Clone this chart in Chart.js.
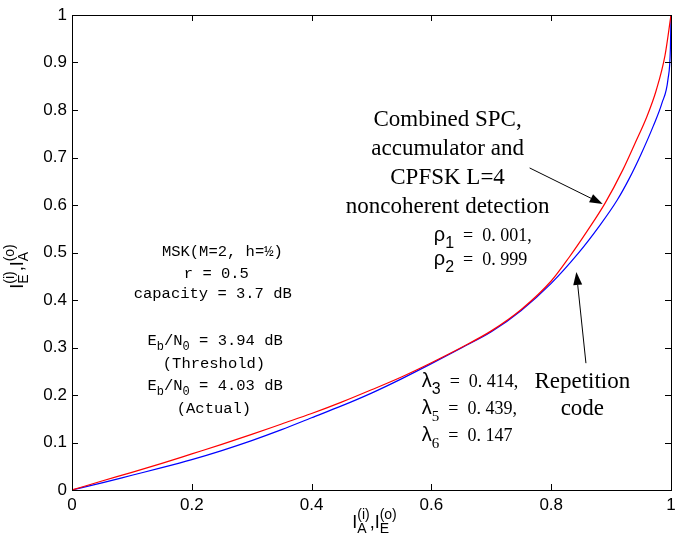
<!DOCTYPE html>
<html>
<head>
<meta charset="utf-8">
<script src="https://cdn.jsdelivr.net/npm/chart.js@4.4.0/dist/chart.umd.min.js"></script>
<style>
  html, body { margin: 0; padding: 0; background: #fff; }
  #wrap { width: 675px; height: 543px; }
</style>
</head>
<body>
<div id="wrap"><canvas id="exitChart"></canvas></div>
<script>
// EXIT chart curves
const combinedX = [0, 0.05, 0.1, 0.15, 0.2, 0.25, 0.3, 0.35, 0.4, 0.45, 0.5, 0.55, 0.6, 0.65, 0.7, 0.75, 0.8, 0.83, 0.86, 0.89, 0.92, 0.94, 0.96, 0.975, 0.99, 1];
const combinedY = [0, 0.019, 0.037, 0.056, 0.076, 0.096, 0.117, 0.139, 0.161, 0.185, 0.211, 0.238, 0.268, 0.3, 0.335, 0.38, 0.44, 0.49, 0.545, 0.604, 0.675, 0.73, 0.787, 0.84, 0.915, 1];
const repetitionX = [0, 0.05, 0.1, 0.15, 0.2, 0.25, 0.3, 0.35, 0.4, 0.45, 0.5, 0.55, 0.6, 0.65, 0.7, 0.75, 0.8, 0.845, 0.88, 0.91, 0.93, 0.95, 0.97, 0.985, 0.995, 0.999, 1];
const repetitionY = [0, 0.015, 0.031, 0.047, 0.064, 0.083, 0.104, 0.127, 0.152, 0.177, 0.204, 0.234, 0.266, 0.299, 0.333, 0.378, 0.435, 0.498, 0.555, 0.61, 0.655, 0.707, 0.765, 0.815, 0.865, 0.93, 1];
const xTicks = [0, 0.2, 0.4, 0.6, 0.8, 1];
const yTicks = [0, 0.1, 0.2, 0.3, 0.4, 0.5, 0.6, 0.7, 0.8, 0.9, 1];

const toPoints = (xs, ys) => xs.map((x, i) => ({ x: x, y: ys[i] }));

const SANS = '"Liberation Sans", Arial, sans-serif';
const SERIF = '"Liberation Serif", "Times New Roman", serif';
const MONO = '"Liberation Mono", "Courier New", monospace';

// draw a run of text pieces; piece = {t, font, dy} or {sup, sub, font, supDy, subDy}
function drawRun(ctx, pieces, x, y, align) {
    const widthOf = p => {
        ctx.font = p.font;
        if (p.t !== undefined) return ctx.measureText(p.t).width;
        return Math.max(ctx.measureText(p.sup || '').width, ctx.measureText(p.sub || '').width);
    };
    const total = pieces.reduce((s, p) => s + widthOf(p), 0);
    let cx = align === 'center' ? x - total / 2 : (align === 'right' ? x - total : x);
    ctx.textAlign = 'left';
    ctx.textBaseline = 'alphabetic';
    pieces.forEach(p => {
        const w = widthOf(p);
        ctx.font = p.font;
        if (p.t !== undefined) {
            ctx.fillText(p.t, cx, y + (p.dy || 0));
        } else {
            if (p.sup) ctx.fillText(p.sup, cx, y + p.supDy);
            if (p.sub) ctx.fillText(p.sub, cx, y + p.subDy);
        }
        cx += w;
    });
}

const frameAndNotes = {
    id: 'frameAndNotes',
    afterDatasetsDraw(chart) {
        const { ctx, chartArea: a, scales: { x, y } } = chart;
        const px = v => x.getPixelForValue(v);
        const py = v => y.getPixelForValue(v);
        ctx.save();
        ctx.strokeStyle = '#000';
        ctx.fillStyle = '#000';
        ctx.lineWidth = 1;

        // box
        ctx.strokeRect(Math.round(a.left) + 0.5, Math.round(a.top) + 0.5,
            Math.round(a.right - a.left), Math.round(a.bottom - a.top));

        // inward ticks on all four sides
        const tl = 6;
        ctx.beginPath();
        xTicks.forEach(v => {
            const p = Math.round(px(v)) + 0.5;
            ctx.moveTo(p, a.bottom); ctx.lineTo(p, a.bottom - tl);
            ctx.moveTo(p, a.top); ctx.lineTo(p, a.top + tl);
        });
        yTicks.forEach(v => {
            const p = Math.round(py(v)) + 0.5;
            ctx.moveTo(a.left, p); ctx.lineTo(a.left + tl, p);
            ctx.moveTo(a.right, p); ctx.lineTo(a.right - tl, p);
        });
        ctx.stroke();

        // arrows
        const arrow = (x0, y0, x1, y1) => {
            const X0 = px(x0), Y0 = py(y0), X1 = px(x1), Y1 = py(y1);
            const ang = Math.atan2(Y1 - Y0, X1 - X0);
            const hl = 13, hw = 4.5;
            ctx.beginPath();
            ctx.moveTo(X0, Y0);
            ctx.lineTo(X1 - hl * Math.cos(ang), Y1 - hl * Math.sin(ang));
            ctx.stroke();
            ctx.beginPath();
            ctx.moveTo(X1, Y1);
            ctx.lineTo(X1 - hl * Math.cos(ang) + hw * Math.sin(ang), Y1 - hl * Math.sin(ang) - hw * Math.cos(ang));
            ctx.lineTo(X1 - hl * Math.cos(ang) - hw * Math.sin(ang), Y1 - hl * Math.sin(ang) + hw * Math.cos(ang));
            ctx.closePath();
            ctx.fill();
        };
        arrow(0.764, 0.678, 0.886, 0.602);
        arrow(0.858, 0.267, 0.842, 0.459);

        // serif annotations
        const big = '23px ' + SERIF;
        const cap = [['Combined SPC,', 0.766], ['accumulator and', 0.706], ['CPFSK L=4', 0.644], ['noncoherent detection', 0.584]];
        cap.forEach(([t, v]) => drawRun(ctx, [{ t: t, font: big }], px(0.627), py(v), 'center'));
        drawRun(ctx, [{ t: 'Repetition', font: big }], px(0.852), py(0.215), 'center');
        drawRun(ctx, [{ t: 'code', font: big }], px(0.852), py(0.158), 'center');

        // rho and lambda values
        const gr = '20px ' + SANS, sb = '15px ' + SERIF, sbS = '16px ' + SANS, num = '18px ' + SERIF;
        const coef = (sym, sub, subFont, val, xv, yv) => drawRun(ctx, [
            { t: sym, font: gr },
            { t: sub, font: subFont, dy: 7 },
            { t: '  =  ' + val, font: num }
        ], px(xv), py(yv), 'left');
        coef('\u03C1', '1', sbS, '0. 001,', 0.604, 0.525);
        coef('\u03C1', '2', sbS, '0. 999', 0.604, 0.474);
        coef('\u03BB', '3', sbS, '0. 414,', 0.584, 0.217);
        coef('\u03BB', '5', sb, '0. 439,', 0.584, 0.16);
        coef('\u03BB', '6', sb, '0. 147', 0.584, 0.103);

        // MSK parameter block
        const m = '15.5px ' + MONO, ms = '12px ' + MONO;
        const eb = v => [{ t: 'E', font: m }, { t: 'b', font: ms, dy: 5 }, { t: '/N', font: m }, { t: '0', font: ms, dy: 5 }, { t: ' = ' + v + ' dB', font: m }];
        drawRun(ctx, [{ t: 'MSK(M=2, h=\u00BD)', font: m }], px(0.251), py(0.493), 'center');
        drawRun(ctx, [{ t: 'r = 0.5', font: m }], px(0.241), py(0.446), 'center');
        drawRun(ctx, [{ t: 'capacity = 3.7 dB', font: m }], px(0.235), py(0.405), 'center');
        drawRun(ctx, eb('3.94'), px(0.239), py(0.305), 'center');
        drawRun(ctx, [{ t: '(Threshold)', font: m }], px(0.237), py(0.257), 'center');
        drawRun(ctx, eb('4.03'), px(0.239), py(0.211), 'center');
        drawRun(ctx, [{ t: '(Actual)', font: m }], px(0.237), py(0.163), 'center');

        // axis titles
        const lf = '18px ' + SANS, lsf = '14px ' + SANS;
        const label = (a1, b1, a2, b2) => [
            { t: 'I', font: lf },
            { sup: a1, sub: b1, font: lsf, supDy: -9, subDy: 5 },
            { t: ',', font: lf },
            { t: 'I', font: lf },
            { sup: a2, sub: b2, font: lsf, supDy: -9, subDy: 5 }
        ];
        drawRun(ctx, label('(i)', 'A', '(o)', 'E'), (a.left + a.right) / 2 + 3, 528, 'center');
        ctx.translate(23, (a.top + a.bottom) / 2 + 14);
        ctx.rotate(-Math.PI / 2);
        drawRun(ctx, label('(i)', 'E', '(o)', 'A'), 0, 0, 'center');
        ctx.restore();
    }
};

new Chart(document.getElementById('exitChart'), {
    type: 'scatter',
    data: {
        datasets: [
            {
                label: 'Combined SPC, accumulator and CPFSK',
                data: toPoints(combinedX, combinedY),
                showLine: true,
                borderColor: '#ff0000',
                borderWidth: 1.2,
                pointRadius: 0,
                cubicInterpolationMode: 'monotone'
            },
            {
                label: 'Repetition code',
                data: toPoints(repetitionX, repetitionY),
                showLine: true,
                borderColor: '#0000ff',
                borderWidth: 1.2,
                pointRadius: 0,
                cubicInterpolationMode: 'monotone'
            }
        ]
    },
    options: {
        responsive: true,
        maintainAspectRatio: false,
        animation: false,
        layout: { padding: { top: 15, right: 4, left: 0, bottom: 0 } },
        plugins: { legend: { display: false }, tooltip: { enabled: false } },
        scales: {
            x: {
                type: 'linear', min: 0, max: 1,
                afterBuildTicks: s => { s.ticks = xTicks.map(v => ({ value: v })); },
                afterFit: s => { s.height = 53; s.paddingLeft = 0; s.paddingRight = 0; },
                grid: { display: false, drawTicks: false },
                border: { display: false },
                ticks: { color: '#000', padding: 5, font: { family: SANS, size: 17 }, maxRotation: 0, callback: v => String(v) }
            },
            y: {
                type: 'linear', min: 0, max: 1,
                afterBuildTicks: s => { s.ticks = yTicks.map(v => ({ value: v })); },
                afterFit: s => { s.width = 72; s.paddingTop = 0; s.paddingBottom = 0; },
                grid: { display: false, drawTicks: false },
                border: { display: false },
                ticks: { color: '#000', padding: 5, font: { family: SANS, size: 17 }, callback: v => String(v) }
            }
        }
    },
    plugins: [frameAndNotes]
});
</script>
</body>
</html>
